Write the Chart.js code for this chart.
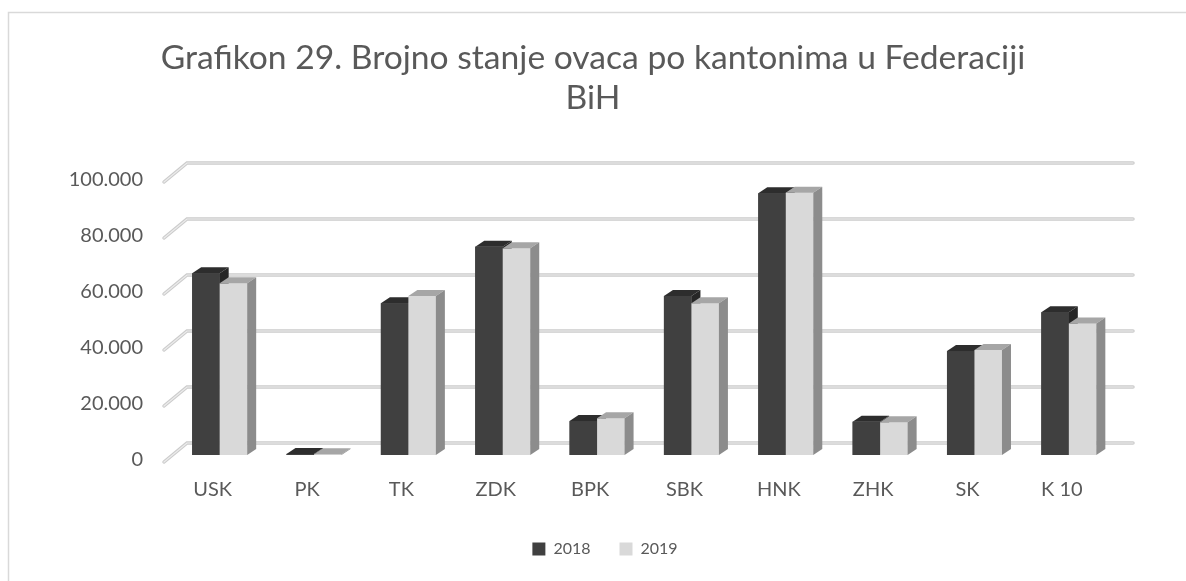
<!DOCTYPE html>
<html>
<head>
<meta charset="utf-8">
<script src="https://cdn.jsdelivr.net/npm/chart.js@4"></script>
<style>
	html, body { margin: 0; padding: 0; background: #ffffff; }
	#wrap { width: 1186px; height: 581px; position: relative; }
</style>
</head>
<body>
<div id="wrap"><canvas id="chart-canvas"></canvas></div>
<script>
var cantonLabels = ["USK", "PK", "TK", "ZDK", "BPK", "SBK", "HNK", "ZHK", "SK", "K 10"];
var sheep2018 = [64900, 400, 54200, 74400, 12100, 56800, 93500, 11900, 37100, 51000];
var sheep2019 = [61300, 300, 56800, 73800, 13100, 54200, 93700, 11700, 37500, 47000];
var yTicks = [0, 20000, 40000, 60000, 80000, 100000];
var titleLines = ["Grafikon 29. Brojno stanje ovaca po kantonima u Federaciji", "BiH"];

var textColor = "#595959";
var fontFamily = "Lato, 'Open Sans', sans-serif";

// depth of the bars and of the floor / wall
var barDx = 9, barDy = -6;
var frontDx = -8.5, frontDy = 7, backDx = 14.5, backDy = -12;

function fitTitleSize() {
	var ctx = document.createElement("canvas").getContext("2d");
	ctx.font = "29px " + fontFamily;
	var w = ctx.measureText(titleLines[0]).width;
	return 29 * 865 / w;
}

function formatThousands(v) {
	return String(v).replace(/\B(?=(\d{3})+(?!\d))/g, ".");
}

var framePlugin = {
	id: "frame",
	afterLayout: function(chart) {
		// legend sits a little right of centre in the original
		if (chart.legend) {
			chart.legend.left += 12;
			chart.legend.right += 12;
		}
	},
	beforeDraw: function(chart) {
		var ctx = chart.ctx;
		ctx.save();
		ctx.fillStyle = "#ffffff";
		ctx.fillRect(0, 0, chart.width, chart.height);
		ctx.strokeStyle = "#d9d9d9";
		ctx.lineWidth = 1.5;
		ctx.strokeRect(8.5, 12.5, chart.width + 20, chart.height + 20);
		ctx.restore();
	}
};

var wallPlugin = {
	id: "wall",
	beforeDatasetsDraw: function(chart) {
		var ctx = chart.ctx;
		var area = chart.chartArea;
		var yScale = chart.scales.y;
		ctx.save();
		ctx.lineCap = "round";
		for (var pass = 0; pass < 2; pass++) {
			ctx.lineWidth = pass === 0 ? 3.5 : 1.2;
			ctx.strokeStyle = pass === 0 ? "#cccccc" : "#ececec";
			for (var i = 0; i < yTicks.length; i++) {
				var y = yScale.getPixelForValue(yTicks[i]);
				ctx.beginPath();
				ctx.moveTo(area.left + frontDx, y + frontDy);
				ctx.lineTo(area.left + backDx, y + backDy);
				ctx.lineTo(area.right + 17, y + backDy);
				ctx.stroke();
			}
		}
		ctx.restore();
	}
};

// paints every bar again, category by category, so the faces overlap the right way
var bar3dPlugin = {
	id: "bar3d",
	afterDatasetsDraw: function(chart) {
		var ctx = chart.ctx;
		var datasets = chart.data.datasets;
		ctx.save();
		for (var i = 0; i < cantonLabels.length; i++) {
			for (var d = 0; d < datasets.length; d++) {
				var ds = datasets[d];
				var bar = chart.getDatasetMeta(d).data[i];
				var p = bar.getProps(["x", "y", "base", "width"], true);
				var x0 = p.x - p.width / 2, x1 = p.x + p.width / 2;
				var top = Math.min(p.y, p.base), base = Math.max(p.y, p.base);
				// front face
				ctx.fillStyle = ds.backgroundColor;
				ctx.fillRect(x0, top, p.width, base - top);
				// top face
				ctx.fillStyle = ds.topColor;
				ctx.beginPath();
				ctx.moveTo(x0, top);
				ctx.lineTo(x1, top);
				ctx.lineTo(x1 + barDx, top + barDy);
				ctx.lineTo(x0 + barDx, top + barDy);
				ctx.closePath();
				ctx.fill();
				// side face
				ctx.fillStyle = ds.sideColor;
				ctx.beginPath();
				ctx.moveTo(x1, top);
				ctx.lineTo(x1 + barDx, top + barDy);
				ctx.lineTo(x1 + barDx, base + barDy);
				ctx.lineTo(x1, base);
				ctx.closePath();
				ctx.fill();
			}
		}
		ctx.restore();
	}
};

window.onload = function() {
	var titleSize = fitTitleSize();
	var lineH = 40.6;

	new Chart(document.getElementById("chart-canvas"), {
		type: "bar",
		data: {
			labels: cantonLabels,
			datasets: [{
				label: "2018",
				data: sheep2018,
				backgroundColor: "#404040",
				topColor: "#2d2d2d",
				sideColor: "#262626"
			}, {
				label: "2019",
				data: sheep2019,
				backgroundColor: "#d9d9d9",
				topColor: "#a6a6a6",
				sideColor: "#8c8c8c"
			}]
		},
		options: {
			responsive: true,
			maintainAspectRatio: false,
			animation: false,
			categoryPercentage: 0.583,
			barPercentage: 1,
			layout: { padding: { left: 0, right: 0, top: 0, bottom: 14 } },
			plugins: {
				tooltip: { enabled: false },
				title: {
					display: true,
					text: titleLines,
					color: textColor,
					font: { family: fontFamily, size: titleSize, weight: "normal", lineHeight: lineH / titleSize },
					padding: { top: 37.7, bottom: 175 - 37.7 - 2 * lineH }
				},
				legend: {
					position: "bottom",
					labels: {
						color: textColor,
						font: { family: fontFamily, size: 16 },
						boxWidth: 13,
						boxHeight: 13,
						padding: 29
					}
				}
			},
			scales: {
				x: {
					grid: { display: false, drawTicks: false },
					border: { display: false },
					ticks: {
						color: textColor,
						font: { family: fontFamily, size: 20 },
						padding: 23,
						labelOffset: -7,
						maxRotation: 0
					},
					afterFit: function(scale) {
						var legendH = scale.chart.legend ? scale.chart.legend.height : 40;
						scale.height = 581 - 455 - legendH - 14;
					}
				},
				y: {
					min: 0,
					max: 100000,
					grid: { display: false, drawTicks: false },
					border: { display: false },
					ticks: {
						stepSize: 20000,
						color: textColor,
						font: { family: fontFamily, size: 20 },
						padding: 29.5,
						labelOffset: 5,
						callback: function(v) { return formatThousands(v); }
					},
					afterFit: function(scale) {
						scale.width = 172.5;
					}
				},
				spacer: {
					type: "linear",
					position: "right",
					grid: { display: false, drawTicks: false },
					border: { display: false },
					ticks: { display: false },
					afterFit: function(scale) {
						scale.width = 70;
					}
				}
			}
		},
		plugins: [framePlugin, wallPlugin, bar3dPlugin]
	});
};
</script>
</body>
</html>
